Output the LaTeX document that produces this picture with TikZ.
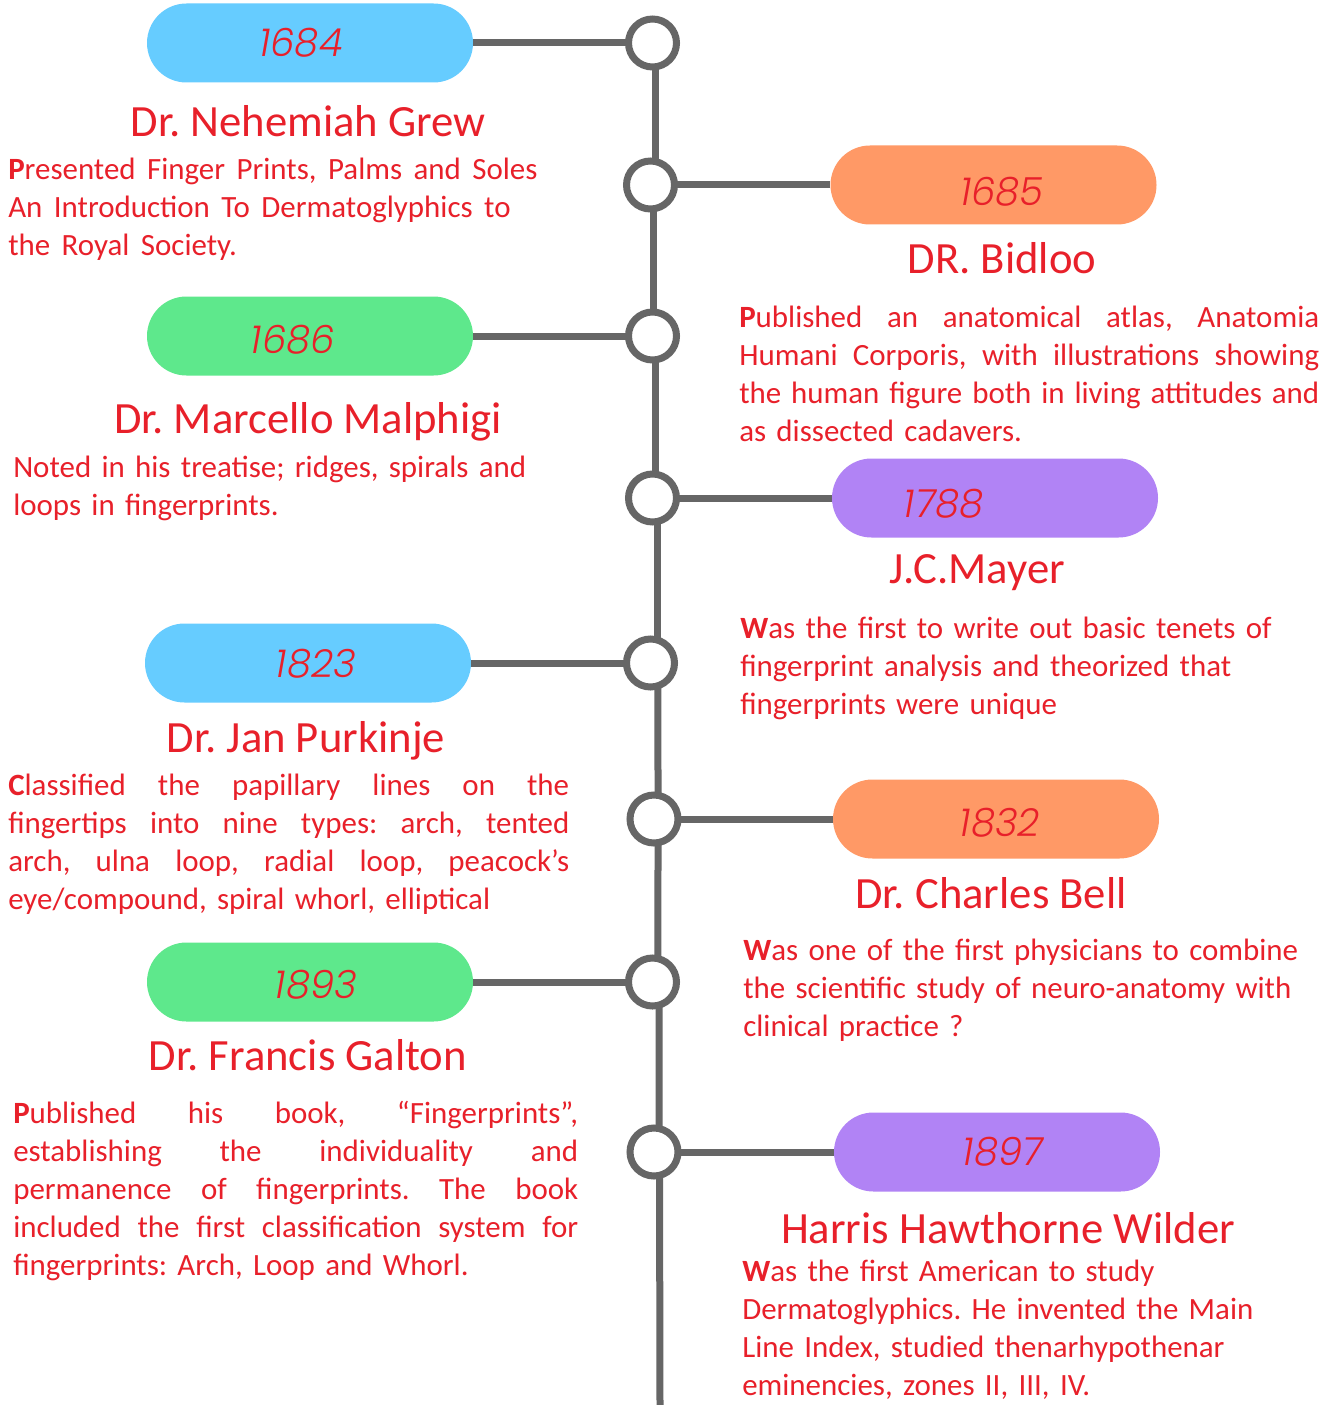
\documentclass[tikz,border=0pt]{standalone}
\usepackage{fontspec}
\setmainfont{Carlito}
\newfontfamily\yearfont{Poppins Light Italic}
\definecolor{tred}{HTML}{E8202A}
\definecolor{tgray}{HTML}{666666}
\definecolor{cblue}{HTML}{66CCFF}
\definecolor{corange}{HTML}{FF9966}
\definecolor{cgreen}{HTML}{5EE88C}
\definecolor{cpurple}{HTML}{B183F5}
\newcommand\jline[2]{\leavevmode\hbox to #1{#2}\\}
\newcommand\g{\hfill}
\frenchspacing
\begin{document}
\begin{tikzpicture}[x=0.75pt,y=-0.75pt,
  dot/.style={circle, draw=tgray, fill=white, line width=5.25pt, minimum size=36pt, inner sep=0pt},
  pill/.style={rounded corners=29.6pt, minimum width=244.5pt, minimum height=59.25pt, inner sep=0pt, draw=none},
  conn/.style={draw=tgray, line width=5.25pt},
  yr/.style={font=\yearfont\fontsize{29}{30}\selectfont, text=tred, anchor=base, inner sep=0pt},
  ttl/.style={font=\fontsize{33.5}{38}\selectfont, text=tred, anchor=base, inner sep=0pt},
  body/.style={font=\fontsize{23.2}{28.5}\selectfont\frenchspacing, text=tred, anchor=base west, inner sep=0pt, align=left}]
\useasboundingbox[fill=white] (0,0) rectangle (1335,1405);
% timeline line segments (drawn under the dots)
\coordinate (k1) at (652.5,43);
\coordinate (k2) at (650.5,185);
\coordinate (k3) at (652.5,336);
\coordinate (k4) at (652.5,498);
\coordinate (k5) at (650.5,663);
\coordinate (k6) at (654,819);
\coordinate (k7) at (652.5,982);
\coordinate (k8) at (654,1152);
\coordinate (bot) at (660,1405);
\draw[conn] ([xshift=2.6pt]k1) -- ([xshift=4.1pt]k2);
\draw[conn] ([xshift=1.9pt]k2) -- ([xshift=0.4pt]k3);
\draw[conn] ([xshift=2.6pt]k3) -- ([xshift=2.6pt]k4);
\draw[conn] ([xshift=3.75pt]k4) -- ([xshift=5.25pt]k5);
\draw[conn] ([xshift=5.6pt]k5) -- ([xshift=3pt]k6);
\draw[conn] ([xshift=3pt]k6) -- ([xshift=4.1pt]k7);
\draw[conn] ([xshift=4.9pt]k7) -- ([xshift=3.75pt]k8);
\draw[conn] ([xshift=4.1pt]k8) -- (bot);
% pills
\node[pill, fill=cblue]   (p1) at (310,43)  {};
\node[pill, fill=corange] (p2) at (993.5,185) {};
\node[pill, fill=cgreen]  (p3) at (310,336) {};
\node[pill, fill=cpurple] (p4) at (995,498) {};
\node[pill, fill=cblue]   (p5) at (308,663) {};
\node[pill, fill=corange] (p6) at (996,819) {};
\node[pill, fill=cgreen]  (p7) at (310,982) {};
\node[pill, fill=cpurple] (p8) at (997,1152) {};
\draw[conn] (p1) -- (k1);
\draw[conn] (p2) -- (k2);
\draw[conn] (p3) -- (k3);
\draw[conn] (p4) -- (k4);
\draw[conn] (p5) -- (k5);
\draw[conn] (p6) -- (k6);
\draw[conn] (p7) -- (k7);
\draw[conn] (p8) -- (k8);
% timeline dots
\node[dot] (c1) at (k1) {};
\node[dot] (c2) at (k2) {};
\node[dot] (c3) at (k3) {};
\node[dot] (c4) at (k4) {};
\node[dot] (c5) at (k5) {};
\node[dot] (c6) at (k6) {};
\node[dot] (c7) at (k7) {};
\node[dot] (c8) at (k8) {};
% years
\node[yr] (y1) at (301,57) {1684};
\node[yr] (y2) at (1002,206) {1685};
\node[yr] (y3) at (293,353) {1686};
\node[yr] (y4) at (944,517) {1788};
\node[yr] (y5) at (316,677) {1823};
\node[yr] (y6) at (1000,836) {1832};
\node[yr] (y7) at (316,998) {1893};
\node[yr] (y8) at (1003,1165) {1897};
% titles
\node[ttl] (t1) at (308,137) {Dr. Nehemiah Grew};
\node[ttl] (t2) at (1002,273) {DR. Bidloo};
\node[ttl] (t3) at (308,433) {Dr. Marcello Malphigi};
\node[ttl] (t4) at (977,583) {J.C.Mayer};
\node[ttl] (t5) at (306,752) {Dr. Jan Purkinje};
\node[ttl] (t6) at (991,908) {Dr. Charles Bell};
\node[ttl] (t7) at (308,1070) {Dr. Francis Galton};
\node[ttl] (t8) at (1008,1243) {Harris Hawthorne Wilder};
% descriptions
\node[body, text width=440pt] (d1) at (8,180) {\spaceskip=8.6pt\relax\textbf{P}resented Finger Prints, Palms and Soles\\An Introduction To Dermatoglyphics to\\the Royal Society.};
\node[body, text width=440pt] (d2) at (739,327) {\jline{435pt}{\textbf{P}ublished\g an\g anatomical\g atlas,\g Anatomia}\jline{435pt}{Humani\g Corporis,\g with\g illustrations\g showing}\jline{435pt}{the\g human\g figure\g both\g in\g living\g attitudes\g and}as dissected cadavers.};
\node[body, text width=430pt] (d3) at (13,477) {Noted in his treatise; ridges, spirals and\\loops in fingerprints.};
\node[body, text width=440pt] (d4) at (740,638) {\textbf{W}as the first to write out basic tenets of\\fingerprint analysis and theorized that\\fingerprints were unique};
\node[body, text width=430pt] (d5) at (8,795) {\jline{420.75pt}{\textbf{C}lassified\g the\g papillary\g lines\g on\g the}\jline{420.75pt}{fingertips\g into\g nine\g types:\g arch,\g tented}\jline{420.75pt}{arch,\g ulna\g loop,\g radial\g loop,\g peacock’s}eye/compound, spiral whorl, elliptical};
\node[body, text width=440pt] (d6) at (743,960) {\textbf{W}as one of the first physicians to combine\\the scientific study of neuro-anatomy with\\clinical practice ?};
\node[body, text width=430pt] (d7) at (13,1123) {\jline{423.75pt}{\textbf{P}ublished\g his\g book,\g “Fingerprints”,}\jline{423.75pt}{establishing\g the\g individuality\g and}\jline{423.75pt}{permanence\g of\g fingerprints.\g The\g book}\jline{423.75pt}{included\g the\g first\g classification\g system\g for}fingerprints: Arch, Loop and Whorl.};
\node[body, text width=440pt] (d8) at (742,1281) {\textbf{W}as the first American to study\\Dermatoglyphics. He invented the Main\\Line Index, studied thenarhypothenar\\eminencies, zones II, III, IV.};
\end{tikzpicture}
\end{document}
